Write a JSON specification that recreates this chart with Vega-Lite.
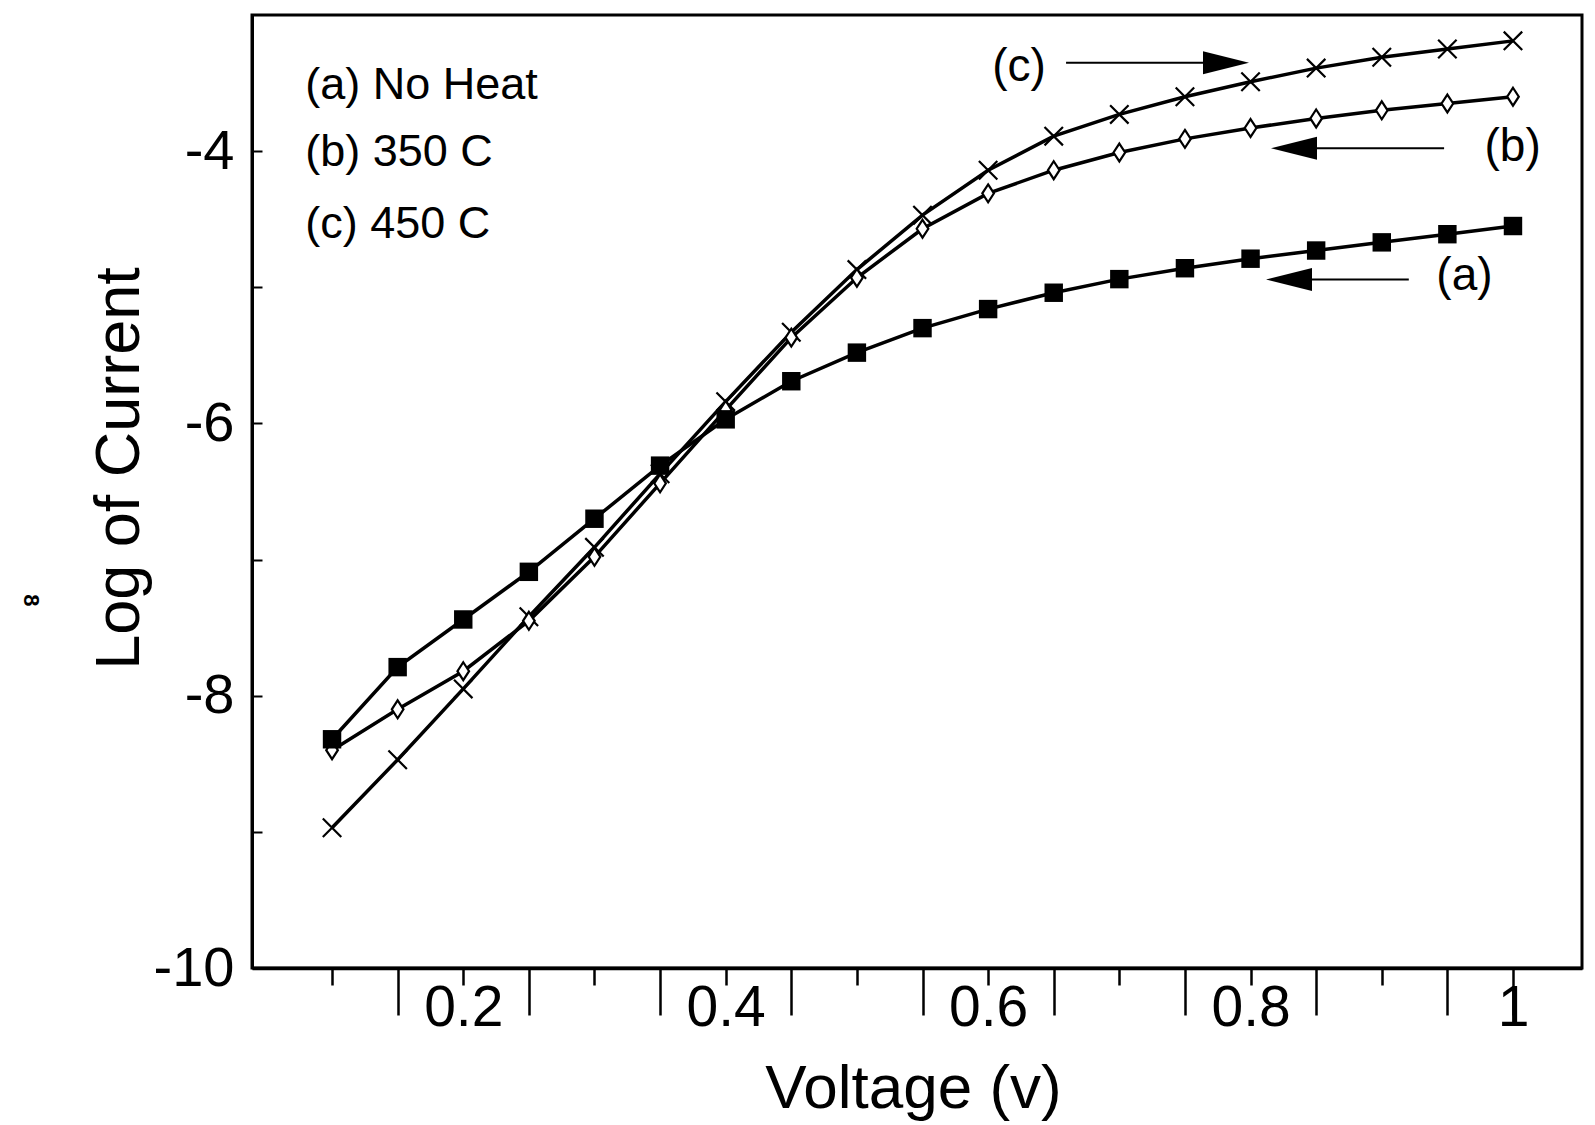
{
  "$schema": "https://vega.github.io/schema/vega-lite/v6.json",
  "autosize": {"type": "none"},
  "width": 1330,
  "height": 953,
  "padding": {"left": 252, "top": 15, "right": 13, "bottom": 157},
  "background": "white",
  "config": {
    "font": "Liberation Sans Narrow, Arial Narrow, Liberation Sans, sans-serif",
    "view": {"stroke": "black", "strokeWidth": 3}
  },
  "datasets": {
    "curves": [
      {"s": "a", "x": 0.1, "y": -8.32}, {"s": "a", "x": 0.15, "y": -7.79}, {"s": "a", "x": 0.2, "y": -7.44}, {"s": "a", "x": 0.25, "y": -7.09},
      {"s": "a", "x": 0.3, "y": -6.70}, {"s": "a", "x": 0.35, "y": -6.31}, {"s": "a", "x": 0.4, "y": -5.97}, {"s": "a", "x": 0.45, "y": -5.69},
      {"s": "a", "x": 0.5, "y": -5.48}, {"s": "a", "x": 0.55, "y": -5.30}, {"s": "a", "x": 0.6, "y": -5.16}, {"s": "a", "x": 0.65, "y": -5.04},
      {"s": "a", "x": 0.7, "y": -4.94}, {"s": "a", "x": 0.75, "y": -4.86}, {"s": "a", "x": 0.8, "y": -4.79}, {"s": "a", "x": 0.85, "y": -4.73},
      {"s": "a", "x": 0.9, "y": -4.67}, {"s": "a", "x": 0.95, "y": -4.61}, {"s": "a", "x": 1.0, "y": -4.55},
      {"s": "b", "x": 0.1, "y": -8.40}, {"s": "b", "x": 0.15, "y": -8.10}, {"s": "b", "x": 0.2, "y": -7.82}, {"s": "b", "x": 0.25, "y": -7.45},
      {"s": "b", "x": 0.3, "y": -6.98}, {"s": "b", "x": 0.35, "y": -6.44}, {"s": "b", "x": 0.4, "y": -5.90}, {"s": "b", "x": 0.45, "y": -5.37},
      {"s": "b", "x": 0.5, "y": -4.93}, {"s": "b", "x": 0.55, "y": -4.57}, {"s": "b", "x": 0.6, "y": -4.31}, {"s": "b", "x": 0.65, "y": -4.14},
      {"s": "b", "x": 0.7, "y": -4.01}, {"s": "b", "x": 0.75, "y": -3.91}, {"s": "b", "x": 0.8, "y": -3.83}, {"s": "b", "x": 0.85, "y": -3.76},
      {"s": "b", "x": 0.9, "y": -3.70}, {"s": "b", "x": 0.95, "y": -3.65}, {"s": "b", "x": 1.0, "y": -3.60},
      {"s": "c", "x": 0.1, "y": -8.97}, {"s": "c", "x": 0.15, "y": -8.47}, {"s": "c", "x": 0.2, "y": -7.95}, {"s": "c", "x": 0.25, "y": -7.42},
      {"s": "c", "x": 0.3, "y": -6.91}, {"s": "c", "x": 0.35, "y": -6.37}, {"s": "c", "x": 0.4, "y": -5.84}, {"s": "c", "x": 0.45, "y": -5.33},
      {"s": "c", "x": 0.5, "y": -4.87}, {"s": "c", "x": 0.55, "y": -4.47}, {"s": "c", "x": 0.6, "y": -4.14}, {"s": "c", "x": 0.65, "y": -3.89},
      {"s": "c", "x": 0.7, "y": -3.73}, {"s": "c", "x": 0.75, "y": -3.60}, {"s": "c", "x": 0.8, "y": -3.49}, {"s": "c", "x": 0.85, "y": -3.39},
      {"s": "c", "x": 0.9, "y": -3.31}, {"s": "c", "x": 0.95, "y": -3.25}, {"s": "c", "x": 1.0, "y": -3.19}
    ],
    "legendText": [
      {"x": 0.0796, "y": -3.515, "text": "(a) No Heat"},
      {"x": 0.0796, "y": -4.009, "text": "(b) 350 C"},
      {"x": 0.0796, "y": -4.532, "text": "(c) 450 C"}
    ],
    "tags": [
      {"x": 0.6236, "y": -3.381, "text": "(c)"},
      {"x": 0.9997, "y": -3.971, "text": "(b)"},
      {"x": 0.9630, "y": -4.92, "text": "(a)"}
    ],
    "arrows": [
      {"x": 0.6594, "x2": 0.7900, "y": -3.35},
      {"x": 0.9475, "x2": 0.8250, "y": -3.979},
      {"x": 0.9206, "x2": 0.8200, "y": -4.943}
    ],
    "heads": [
      {"x": 0.7813, "y": -3.35, "dir": "right"},
      {"x": 0.8331, "y": -3.979, "dir": "left"},
      {"x": 0.8293, "y": -4.943, "dir": "left"}
    ],
    "margin": [
      {"x": -0.1295, "y": -7.30, "text": "8"}
    ]
  },
  "encoding": {
    "x": {
      "field": "x", "type": "quantitative",
      "scale": {"domain": [0.039, 1.0526], "nice": false, "zero": false},
      "axis": {
        "title": "Voltage (v)",
        "values": [0.1, 0.15, 0.2, 0.25, 0.3, 0.35, 0.4, 0.45, 0.5, 0.55, 0.6, 0.65, 0.7, 0.75, 0.8, 0.85, 0.9, 0.95, 1.0],
        "labelExpr": "round(datum.value*20) % 4 === 0 ? format(datum.value, '~g') : ''",
        "grid": false,
        "domainColor": "black", "domainWidth": 3.5,
        "tickColor": "black", "tickWidth": 2.5,
        "tickSize": {"condition": {"test": "round(datum.value*20) % 2 === 1 || datum.value > 0.99", "value": 47}, "value": 17},
        "labelPadding": {"condition": {"test": "round(datum.value*20) % 2 === 1 || datum.value > 0.99", "value": 10}, "value": 40},
        "labelBaseline": "alphabetic",
        "labelFontSize": 57, "labelColor": "black",
        "labelFlush": false, "labelOverlap": false, "labelBound": false,
        "titleFontSize": 62, "titleFontWeight": "normal", "titleColor": "black",
        "titleX": 661, "titleY": 139, "titleBaseline": "alphabetic", "titleAlign": "center"
      }
    },
    "y": {
      "field": "y", "type": "quantitative",
      "scale": {"domain": [-10, -3], "nice": false, "zero": false},
      "axis": {
        "title": "Log of Current",
        "values": [-10, -9, -8, -7, -6, -5, -4],
        "labelExpr": "datum.value % 2 === 0 ? '-' + abs(datum.value) : ''",
        "grid": false,
        "domainColor": "black", "domainWidth": 3,
        "tickColor": "black", "tickWidth": 2, "tickSize": -10,
        "labelPadding": 28,
        "labelFontSize": 56, "labelColor": "black", "labelBaseline": "middle", "labelAlign": "right",
        "labelFlush": false, "labelOverlap": false, "labelBound": false,
        "titleFontSize": 63, "titleFontWeight": "normal", "titleColor": "black",
        "titleAngle": 270, "titleX": -114, "titleY": 453, "titleBaseline": "alphabetic", "titleAlign": "center"
      }
    }
  },
  "layer": [
    {
      "data": {"name": "curves"},
      "mark": {"type": "line", "color": "black", "strokeWidth": 3.5},
      "encoding": {"detail": {"field": "s", "type": "nominal"}}
    },
    {
      "data": {"name": "curves"},
      "transform": [{"filter": "datum.s === 'c'"}],
      "mark": {"type": "point", "shape": "M-1,-1L1,1M-1,1L1,-1", "filled": false, "stroke": "black", "strokeWidth": 2.2, "size": 340, "opacity": 1}
    },
    {
      "data": {"name": "curves"},
      "transform": [{"filter": "datum.s === 'b'"}],
      "mark": {"type": "point", "shape": "M0,-1L0.65,0L0,1L-0.65,0Z", "filled": true, "fill": "white", "stroke": "black", "strokeWidth": 2.2, "size": 320, "opacity": 1}
    },
    {
      "data": {"name": "curves"},
      "transform": [{"filter": "datum.s === 'a'"}],
      "mark": {"type": "point", "shape": "square", "filled": true, "color": "black", "size": 340, "opacity": 1}
    },
    {
      "data": {"name": "arrows"},
      "mark": {"type": "rule", "color": "black", "strokeWidth": 2},
      "encoding": {"x2": {"field": "x2"}}
    },
    {
      "data": {"name": "heads"},
      "mark": {"type": "point", "filled": true, "color": "black", "size": 2116, "opacity": 1},
      "encoding": {
        "shape": {"field": "dir", "type": "nominal", "scale": {"domain": ["right", "left"], "range": ["M-1,-0.5L1,0L-1,0.5Z", "M1,-0.5L-1,0L1,0.5Z"]}, "legend": null}
      }
    },
    {
      "data": {"name": "legendText"},
      "mark": {"type": "text", "align": "left", "baseline": "middle", "fontSize": 45, "color": "black"},
      "encoding": {"text": {"field": "text"}}
    },
    {
      "data": {"name": "tags"},
      "mark": {"type": "text", "align": "center", "baseline": "middle", "fontSize": 46, "color": "black"},
      "encoding": {"text": {"field": "text"}}
    },
    {
      "data": {"name": "margin"},
      "mark": {"type": "text", "align": "center", "baseline": "middle", "fontSize": 22, "fontWeight": "bold", "angle": 90, "color": "black"},
      "encoding": {"text": {"field": "text"}}
    }
  ]
}
